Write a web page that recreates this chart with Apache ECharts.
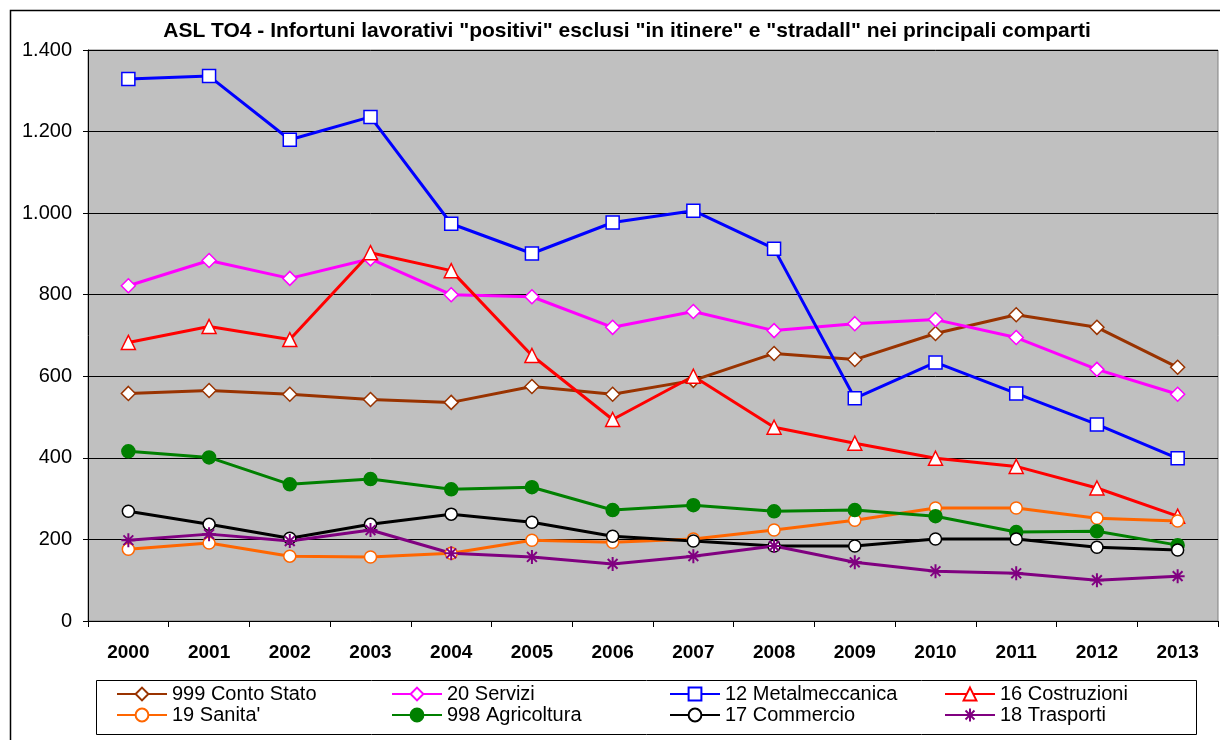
<!DOCTYPE html>
<html>
<head>
<meta charset="utf-8">
<script src="https://cdn.jsdelivr.net/npm/echarts@6/dist/echarts.min.js"></script>
<style>
  html, body { margin: 0; padding: 0; background: #fff; }
  #main { width: 1220px; height: 740px; }
</style>
</head>
<body>
<div id="main"></div>
<script>
// anni
var years = ['2000', '2001', '2002', '2003', '2004', '2005', '2006', '2007', '2008', '2009', '2010', '2011', '2012', '2013'];

// valori per comparto
var contoStato = [558, 565, 556, 543, 536, 575, 556, 590, 656, 641, 705, 751, 720, 622];
var servizi = [822, 884, 840, 888, 800, 795, 720, 759, 712, 729, 739, 695, 617, 556];
var metalmeccanica = [1329, 1336, 1180, 1236, 974, 901, 977, 1006, 913, 546, 634, 558, 482, 399];
var costruzioni = [683, 722, 690, 903, 859, 651, 494, 600, 475, 436, 399, 379, 326, 257];
var sanita = [176, 191, 159, 157, 166, 198, 193, 201, 223, 247, 277, 277, 252, 245];
var agricoltura = [416, 401, 335, 348, 323, 328, 272, 284, 269, 272, 257, 218, 220, 186];
var commercio = [269, 237, 203, 237, 262, 242, 208, 196, 184, 184, 201, 201, 181, 174];
var trasporti = [198, 213, 196, 223, 166, 157, 140, 159, 184, 144, 122, 117, 100, 110];

var yTicks = [0, 200, 400, 600, 800, 1000, 1200, 1400];

var asterisco = 'path://M0,5L10,5M5,0L5,10M1.5,1.5L8.5,8.5M8.5,1.5L1.5,8.5';
var font = 'Liberation Sans, Arial';

function serie(name, data, color, symbol, size, filled) {
  return {
    name: name,
    type: 'line',
    data: data,
    symbol: symbol,
    symbolSize: size,
    showAllSymbol: true,
    lineStyle: { color: color, width: 3 },
    itemStyle: {
      color: filled ? color : '#ffffff',
      borderColor: color,
      borderWidth: 1.5
    },
    emphasis: { disabled: true },
    animation: false
  };
}

var series = [
  serie('999 Conto Stato', contoStato, '#993300', 'diamond', 14, false),
  serie('20 Servizi', servizi, '#ff00ff', 'diamond', 14, false),
  serie('12 Metalmeccanica', metalmeccanica, '#0000ff', 'rect', 13, false),
  serie('16 Costruzioni', costruzioni, '#ff0000', 'triangle', 14, false),
  serie('19 Sanita\'', sanita, '#ff6600', 'circle', 12, false),
  serie('998 Agricoltura', agricoltura, '#008000', 'circle', 13, true),
  serie('17 Commercio', commercio, '#000000', 'circle', 12, false),
  serie('18 Trasporti', trasporti, '#800080', asterisco, 14, true)
];
series[7].itemStyle.borderWidth = 2;

// una legenda per voce, per avere le colonne allineate
var legendPos = [
  [116, 684], [391, 684], [669, 684], [944, 684],
  [116, 705], [391, 705], [669, 705], [944, 705]
];
var legends = series.map(function (s, i) {
  return {
    data: [s.name],
    left: legendPos[i][0],
    top: legendPos[i][1],
    padding: 0,
    itemWidth: 50,
    itemHeight: 16,
    textStyle: { fontFamily: font, fontSize: 20, color: '#000' },
    selectedMode: false
  };
});

var chart = echarts.init(document.getElementById('main'));
chart.setOption({
  backgroundColor: '#ffffff',
  animation: false,
  title: {
    text: 'ASL TO4 - Infortuni lavorativi "positivi" esclusi "in itinere" e "stradall" nei principali comparti',
    left: 622,
    textAlign: 'center',
    top: 16,
    textStyle: { fontFamily: font, fontSize: 21, fontWeight: 'bold', color: '#000' }
  },
  legend: legends,
  grid: {
    left: 88, right: 2, top: 50, bottom: 119,
    show: true,
    backgroundColor: '#c0c0c0',
    borderColor: '#808080',
    borderWidth: 1
  },
  xAxis: {
    type: 'category',
    data: years,
    boundaryGap: true,
    axisLine: { lineStyle: { color: '#000', width: 1 } },
    axisTick: { show: true, length: 6, lineStyle: { color: '#000' } },
    axisLabel: { fontFamily: font, fontSize: 19, fontWeight: 'bold', color: '#000', margin: 22 }
  },
  yAxis: {
    type: 'value',
    min: yTicks[0],
    max: yTicks[yTicks.length - 1],
    interval: 200,
    axisLine: { show: true, lineStyle: { color: '#000', width: 1 } },
    axisTick: { show: true, length: 5, lineStyle: { color: '#000' } },
    splitLine: { lineStyle: { color: '#000', width: 1 } },
    axisLabel: {
      fontFamily: font,
      fontSize: 20,
      color: '#000',
      margin: 16,
      formatter: function (v) {
        return String(v).replace(/\B(?=(\d{3})+(?!\d))/g, '.');
      }
    }
  },
  graphic: [
    {
      type: 'rect',
      shape: { x: 10.5, y: 10.5, width: 1220, height: 740 },
      style: { fill: 'none', stroke: '#000', lineWidth: 1.5 },
      silent: true
    },
    {
      type: 'rect',
      shape: { x: 96.5, y: 680.5, width: 1100, height: 54 },
      style: { fill: 'none', stroke: '#000', lineWidth: 1 },
      silent: true
    }
  ],
  series: series
});
</script>
</body>
</html>
